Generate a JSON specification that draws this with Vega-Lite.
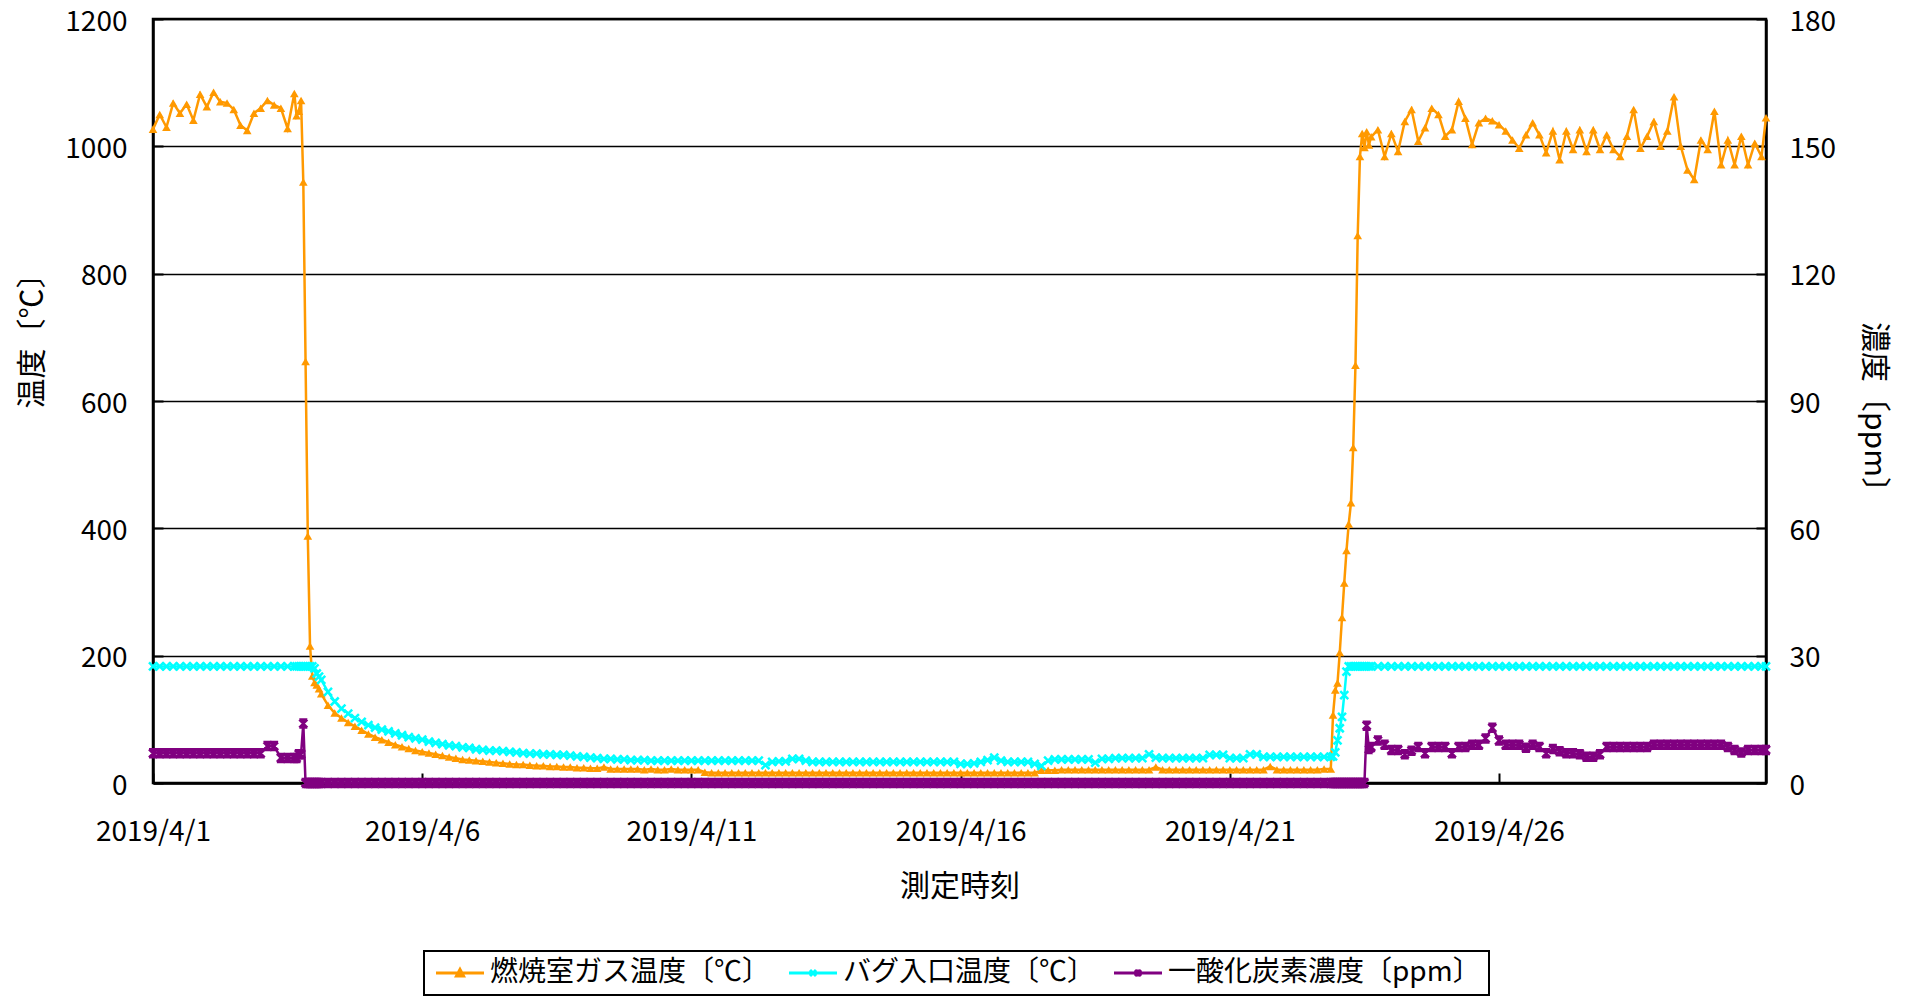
{
"$schema": "https://vega.github.io/schema/vega-lite/v6.json",
"width": 1613, "height": 764,
"autosize": "none",
"padding": {"left": 153, "top": 19, "right": 146, "bottom": 215},
"background": "white",
"data": {"values": [
{"t":"2019-04-01T00:00","gas":1027,"bag":183,"co":7},
{"t":"2019-04-01T03:00","gas":1050,"bag":183,"co":7},
{"t":"2019-04-01T06:00","gas":1030,"bag":183,"co":7},
{"t":"2019-04-01T09:00","gas":1068,"bag":183,"co":7},
{"t":"2019-04-01T12:00","gas":1052,"bag":183,"co":7},
{"t":"2019-04-01T15:00","gas":1066,"bag":183,"co":7},
{"t":"2019-04-01T18:00","gas":1041,"bag":183,"co":7},
{"t":"2019-04-01T21:00","gas":1082,"bag":183,"co":7},
{"t":"2019-04-02T00:00","gas":1062,"bag":183,"co":7},
{"t":"2019-04-02T03:00","gas":1085,"bag":183,"co":7},
{"t":"2019-04-02T06:00","gas":1070,"bag":183,"co":7},
{"t":"2019-04-02T09:00","gas":1068,"bag":183,"co":7},
{"t":"2019-04-02T12:00","gas":1058,"bag":183,"co":7},
{"t":"2019-04-02T15:00","gas":1033,"bag":183,"co":7},
{"t":"2019-04-02T18:00","gas":1025,"bag":183,"co":7},
{"t":"2019-04-02T21:00","gas":1052,"bag":183,"co":7},
{"t":"2019-04-03T00:00","gas":1060,"bag":183,"co":7},
{"t":"2019-04-03T03:00","gas":1072,"bag":183,"co":8.7},
{"t":"2019-04-03T06:00","gas":1065,"bag":183,"co":8.7},
{"t":"2019-04-03T09:00","gas":1060,"bag":183,"co":5.9},
{"t":"2019-04-03T12:00","gas":1028,"bag":183,"co":5.9},
{"t":"2019-04-03T15:00","gas":1083,"bag":183,"co":5.9},
{"t":"2019-04-03T16:00","gas":1048,"bag":183,"co":5.9},
{"t":"2019-04-03T17:00","gas":1055,"bag":183,"co":6.8},
{"t":"2019-04-03T18:00","gas":1072,"bag":183,"co":6.8},
{"t":"2019-04-03T19:00","gas":944,"bag":183,"co":14},
{"t":"2019-04-03T20:00","gas":662,"bag":183,"co":0},
{"t":"2019-04-03T21:00","gas":388,"bag":183,"co":0},
{"t":"2019-04-03T22:00","gas":215,"bag":183,"co":0},
{"t":"2019-04-03T23:00","gas":168,"bag":183,"co":0},
{"t":"2019-04-04T00:00","gas":158,"bag":180,"co":0},
{"t":"2019-04-04T01:00","gas":154,"bag":172,"co":0},
{"t":"2019-04-04T02:00","gas":148,"bag":167,"co":0},
{"t":"2019-04-04T03:00","gas":140,"bag":162,"co":0},
{"t":"2019-04-04T06:00","gas":122,"bag":143,"co":0},
{"t":"2019-04-04T09:00","gas":110,"bag":128,"co":0},
{"t":"2019-04-04T12:00","gas":102,"bag":117,"co":0},
{"t":"2019-04-04T15:00","gas":95,"bag":109,"co":0},
{"t":"2019-04-04T18:00","gas":89,"bag":102,"co":0},
{"t":"2019-04-04T21:00","gas":83,"bag":96,"co":0},
{"t":"2019-04-05T00:00","gas":77,"bag":91,"co":0},
{"t":"2019-04-05T03:00","gas":72,"bag":87,"co":0},
{"t":"2019-04-05T06:00","gas":68,"bag":84,"co":0},
{"t":"2019-04-05T09:00","gas":64,"bag":81,"co":0},
{"t":"2019-04-05T12:00","gas":60,"bag":78,"co":0},
{"t":"2019-04-05T15:00","gas":57,"bag":75,"co":0},
{"t":"2019-04-05T18:00","gas":54,"bag":72,"co":0},
{"t":"2019-04-05T21:00","gas":51,"bag":70,"co":0},
{"t":"2019-04-06T00:00","gas":49,"bag":68,"co":0},
{"t":"2019-04-06T03:00","gas":47,"bag":65,"co":0},
{"t":"2019-04-06T06:00","gas":45,"bag":63,"co":0},
{"t":"2019-04-06T09:00","gas":43,"bag":61,"co":0},
{"t":"2019-04-06T12:00","gas":41,"bag":59,"co":0},
{"t":"2019-04-06T15:00","gas":39,"bag":58,"co":0},
{"t":"2019-04-06T18:00","gas":37,"bag":56,"co":0},
{"t":"2019-04-06T21:00","gas":36,"bag":55,"co":0},
{"t":"2019-04-07T00:00","gas":35,"bag":53,"co":0},
{"t":"2019-04-07T03:00","gas":34,"bag":52,"co":0},
{"t":"2019-04-07T06:00","gas":33,"bag":51,"co":0},
{"t":"2019-04-07T09:00","gas":32,"bag":51,"co":0},
{"t":"2019-04-07T12:00","gas":31,"bag":50,"co":0},
{"t":"2019-04-07T15:00","gas":30,"bag":49,"co":0},
{"t":"2019-04-07T18:00","gas":29,"bag":48,"co":0},
{"t":"2019-04-07T21:00","gas":29,"bag":47,"co":0},
{"t":"2019-04-08T00:00","gas":28,"bag":46,"co":0},
{"t":"2019-04-08T03:00","gas":27,"bag":46,"co":0},
{"t":"2019-04-08T06:00","gas":27,"bag":45,"co":0},
{"t":"2019-04-08T09:00","gas":26,"bag":45,"co":0},
{"t":"2019-04-08T12:00","gas":26,"bag":44,"co":0},
{"t":"2019-04-08T15:00","gas":25,"bag":44,"co":0},
{"t":"2019-04-08T18:00","gas":25,"bag":43,"co":0},
{"t":"2019-04-08T21:00","gas":24,"bag":42,"co":0},
{"t":"2019-04-09T00:00","gas":24,"bag":41,"co":0},
{"t":"2019-04-09T03:00","gas":23,"bag":40,"co":0},
{"t":"2019-04-09T06:00","gas":23,"bag":39,"co":0},
{"t":"2019-04-09T09:00","gas":25,"bag":38,"co":0},
{"t":"2019-04-09T12:00","gas":22,"bag":38,"co":0},
{"t":"2019-04-09T15:00","gas":22,"bag":37,"co":0},
{"t":"2019-04-09T18:00","gas":22,"bag":37,"co":0},
{"t":"2019-04-09T21:00","gas":22,"bag":36,"co":0},
{"t":"2019-04-10T00:00","gas":22,"bag":36,"co":0},
{"t":"2019-04-10T03:00","gas":21,"bag":36,"co":0},
{"t":"2019-04-10T06:00","gas":22,"bag":35,"co":0},
{"t":"2019-04-10T09:00","gas":21,"bag":35,"co":0},
{"t":"2019-04-10T12:00","gas":21,"bag":35,"co":0},
{"t":"2019-04-10T15:00","gas":22,"bag":35,"co":0},
{"t":"2019-04-10T18:00","gas":21,"bag":35,"co":0},
{"t":"2019-04-10T21:00","gas":21,"bag":35,"co":0},
{"t":"2019-04-11T00:00","gas":21,"bag":35,"co":0},
{"t":"2019-04-11T03:00","gas":21,"bag":35,"co":0},
{"t":"2019-04-11T06:00","gas":17,"bag":35,"co":0},
{"t":"2019-04-11T09:00","gas":16,"bag":35,"co":0},
{"t":"2019-04-11T12:00","gas":16,"bag":35,"co":0},
{"t":"2019-04-11T15:00","gas":16,"bag":35,"co":0},
{"t":"2019-04-11T18:00","gas":16,"bag":35,"co":0},
{"t":"2019-04-11T21:00","gas":16,"bag":35,"co":0},
{"t":"2019-04-12T00:00","gas":16,"bag":35,"co":0},
{"t":"2019-04-12T03:00","gas":16,"bag":35,"co":0},
{"t":"2019-04-12T06:00","gas":16,"bag":35,"co":0},
{"t":"2019-04-12T09:00","gas":16,"bag":28,"co":0},
{"t":"2019-04-12T12:00","gas":16,"bag":33,"co":0},
{"t":"2019-04-12T15:00","gas":16,"bag":34,"co":0},
{"t":"2019-04-12T18:00","gas":16,"bag":34,"co":0},
{"t":"2019-04-12T21:00","gas":16,"bag":38,"co":0},
{"t":"2019-04-13T00:00","gas":16,"bag":38,"co":0},
{"t":"2019-04-13T03:00","gas":16,"bag":35,"co":0},
{"t":"2019-04-13T06:00","gas":16,"bag":33,"co":0},
{"t":"2019-04-13T09:00","gas":16,"bag":33,"co":0},
{"t":"2019-04-13T12:00","gas":16,"bag":33,"co":0},
{"t":"2019-04-13T15:00","gas":16,"bag":33,"co":0},
{"t":"2019-04-13T18:00","gas":16,"bag":33,"co":0},
{"t":"2019-04-13T21:00","gas":16,"bag":33,"co":0},
{"t":"2019-04-14T00:00","gas":16,"bag":33,"co":0},
{"t":"2019-04-14T03:00","gas":16,"bag":33,"co":0},
{"t":"2019-04-14T06:00","gas":16,"bag":33,"co":0},
{"t":"2019-04-14T09:00","gas":16,"bag":33,"co":0},
{"t":"2019-04-14T12:00","gas":16,"bag":33,"co":0},
{"t":"2019-04-14T15:00","gas":16,"bag":33,"co":0},
{"t":"2019-04-14T18:00","gas":16,"bag":33,"co":0},
{"t":"2019-04-14T21:00","gas":16,"bag":33,"co":0},
{"t":"2019-04-15T00:00","gas":16,"bag":33,"co":0},
{"t":"2019-04-15T03:00","gas":16,"bag":33,"co":0},
{"t":"2019-04-15T06:00","gas":16,"bag":33,"co":0},
{"t":"2019-04-15T09:00","gas":16,"bag":33,"co":0},
{"t":"2019-04-15T12:00","gas":16,"bag":33,"co":0},
{"t":"2019-04-15T15:00","gas":16,"bag":33,"co":0},
{"t":"2019-04-15T18:00","gas":16,"bag":33,"co":0},
{"t":"2019-04-15T21:00","gas":16,"bag":33,"co":0},
{"t":"2019-04-16T00:00","gas":16,"bag":30,"co":0},
{"t":"2019-04-16T03:00","gas":16,"bag":30,"co":0},
{"t":"2019-04-16T06:00","gas":16,"bag":31,"co":0},
{"t":"2019-04-16T09:00","gas":16,"bag":33,"co":0},
{"t":"2019-04-16T12:00","gas":16,"bag":36,"co":0},
{"t":"2019-04-16T15:00","gas":16,"bag":40,"co":0},
{"t":"2019-04-16T18:00","gas":16,"bag":35,"co":0},
{"t":"2019-04-16T21:00","gas":16,"bag":33,"co":0},
{"t":"2019-04-17T00:00","gas":16,"bag":33,"co":0},
{"t":"2019-04-17T03:00","gas":16,"bag":33,"co":0},
{"t":"2019-04-17T06:00","gas":16,"bag":33,"co":0},
{"t":"2019-04-17T09:00","gas":16,"bag":30,"co":0},
{"t":"2019-04-17T12:00","gas":20,"bag":27,"co":0},
{"t":"2019-04-17T15:00","gas":20,"bag":35,"co":0},
{"t":"2019-04-17T18:00","gas":20,"bag":37,"co":0},
{"t":"2019-04-17T21:00","gas":21,"bag":37,"co":0},
{"t":"2019-04-18T00:00","gas":21,"bag":37,"co":0},
{"t":"2019-04-18T03:00","gas":21,"bag":37,"co":0},
{"t":"2019-04-18T06:00","gas":21,"bag":37,"co":0},
{"t":"2019-04-18T09:00","gas":21,"bag":37,"co":0},
{"t":"2019-04-18T12:00","gas":21,"bag":32,"co":0},
{"t":"2019-04-18T15:00","gas":21,"bag":38,"co":0},
{"t":"2019-04-18T18:00","gas":21,"bag":38,"co":0},
{"t":"2019-04-18T21:00","gas":21,"bag":39,"co":0},
{"t":"2019-04-19T00:00","gas":21,"bag":39,"co":0},
{"t":"2019-04-19T03:00","gas":21,"bag":39,"co":0},
{"t":"2019-04-19T06:00","gas":21,"bag":39,"co":0},
{"t":"2019-04-19T09:00","gas":21,"bag":39,"co":0},
{"t":"2019-04-19T12:00","gas":21,"bag":45,"co":0},
{"t":"2019-04-19T15:00","gas":25,"bag":40,"co":0},
{"t":"2019-04-19T18:00","gas":21,"bag":39,"co":0},
{"t":"2019-04-19T21:00","gas":21,"bag":39,"co":0},
{"t":"2019-04-20T00:00","gas":21,"bag":39,"co":0},
{"t":"2019-04-20T03:00","gas":21,"bag":39,"co":0},
{"t":"2019-04-20T06:00","gas":21,"bag":39,"co":0},
{"t":"2019-04-20T09:00","gas":21,"bag":39,"co":0},
{"t":"2019-04-20T12:00","gas":21,"bag":39,"co":0},
{"t":"2019-04-20T15:00","gas":21,"bag":44,"co":0},
{"t":"2019-04-20T18:00","gas":21,"bag":44,"co":0},
{"t":"2019-04-20T21:00","gas":21,"bag":44,"co":0},
{"t":"2019-04-21T00:00","gas":21,"bag":39,"co":0},
{"t":"2019-04-21T03:00","gas":21,"bag":39,"co":0},
{"t":"2019-04-21T06:00","gas":21,"bag":39,"co":0},
{"t":"2019-04-21T09:00","gas":21,"bag":45,"co":0},
{"t":"2019-04-21T12:00","gas":21,"bag":45,"co":0},
{"t":"2019-04-21T15:00","gas":21,"bag":41,"co":0},
{"t":"2019-04-21T18:00","gas":26,"bag":41,"co":0},
{"t":"2019-04-21T21:00","gas":21,"bag":41,"co":0},
{"t":"2019-04-22T00:00","gas":21,"bag":41,"co":0},
{"t":"2019-04-22T03:00","gas":21,"bag":41,"co":0},
{"t":"2019-04-22T06:00","gas":21,"bag":41,"co":0},
{"t":"2019-04-22T09:00","gas":21,"bag":41,"co":0},
{"t":"2019-04-22T12:00","gas":21,"bag":41,"co":0},
{"t":"2019-04-22T15:00","gas":21,"bag":41,"co":0},
{"t":"2019-04-22T18:00","gas":22,"bag":41,"co":0},
{"t":"2019-04-22T21:00","gas":22,"bag":41,"co":0},
{"t":"2019-04-22T22:00","gas":107,"bag":42,"co":0},
{"t":"2019-04-22T23:00","gas":146,"bag":48,"co":0},
{"t":"2019-04-23T00:00","gas":157,"bag":67,"co":0},
{"t":"2019-04-23T01:00","gas":205,"bag":86,"co":0},
{"t":"2019-04-23T02:00","gas":260,"bag":104,"co":0},
{"t":"2019-04-23T03:00","gas":314,"bag":138,"co":0},
{"t":"2019-04-23T04:00","gas":365,"bag":175,"co":0},
{"t":"2019-04-23T05:00","gas":407,"bag":183,"co":0},
{"t":"2019-04-23T06:00","gas":440,"bag":183,"co":0},
{"t":"2019-04-23T07:00","gas":527,"bag":183,"co":0},
{"t":"2019-04-23T08:00","gas":656,"bag":183,"co":0},
{"t":"2019-04-23T09:00","gas":860,"bag":183,"co":0},
{"t":"2019-04-23T10:00","gas":984,"bag":183,"co":0},
{"t":"2019-04-23T11:00","gas":1020,"bag":183,"co":0},
{"t":"2019-04-23T12:00","gas":998,"bag":183,"co":0},
{"t":"2019-04-23T13:00","gas":1023,"bag":183,"co":13.5},
{"t":"2019-04-23T14:00","gas":1002,"bag":183,"co":8},
{"t":"2019-04-23T15:00","gas":1015,"bag":183,"co":8.5},
{"t":"2019-04-23T18:00","gas":1026,"bag":183,"co":10},
{"t":"2019-04-23T21:00","gas":984,"bag":183,"co":9},
{"t":"2019-04-24T00:00","gas":1020,"bag":183,"co":7.8},
{"t":"2019-04-24T03:00","gas":992,"bag":183,"co":7.8},
{"t":"2019-04-24T06:00","gas":1039,"bag":183,"co":6.8},
{"t":"2019-04-24T09:00","gas":1058,"bag":183,"co":7.6},
{"t":"2019-04-24T12:00","gas":1008,"bag":183,"co":8.5},
{"t":"2019-04-24T15:00","gas":1029,"bag":183,"co":7},
{"t":"2019-04-24T18:00","gas":1060,"bag":183,"co":8.5},
{"t":"2019-04-24T21:00","gas":1050,"bag":183,"co":8.5},
{"t":"2019-04-25T00:00","gas":1016,"bag":183,"co":8.5},
{"t":"2019-04-25T03:00","gas":1026,"bag":183,"co":7},
{"t":"2019-04-25T06:00","gas":1071,"bag":183,"co":8.5},
{"t":"2019-04-25T09:00","gas":1044,"bag":183,"co":8.5},
{"t":"2019-04-25T12:00","gas":1003,"bag":183,"co":9},
{"t":"2019-04-25T15:00","gas":1037,"bag":183,"co":9},
{"t":"2019-04-25T18:00","gas":1044,"bag":183,"co":10.5},
{"t":"2019-04-25T21:00","gas":1040,"bag":183,"co":13},
{"t":"2019-04-26T00:00","gas":1034,"bag":183,"co":10},
{"t":"2019-04-26T03:00","gas":1024,"bag":183,"co":9},
{"t":"2019-04-26T06:00","gas":1010,"bag":183,"co":9},
{"t":"2019-04-26T09:00","gas":997,"bag":183,"co":9},
{"t":"2019-04-26T12:00","gas":1018,"bag":183,"co":8.3},
{"t":"2019-04-26T15:00","gas":1037,"bag":183,"co":9},
{"t":"2019-04-26T18:00","gas":1018,"bag":183,"co":8.5},
{"t":"2019-04-26T21:00","gas":990,"bag":183,"co":7},
{"t":"2019-04-27T00:00","gas":1024,"bag":183,"co":8},
{"t":"2019-04-27T03:00","gas":979,"bag":183,"co":7.5},
{"t":"2019-04-27T06:00","gas":1024,"bag":183,"co":7},
{"t":"2019-04-27T09:00","gas":995,"bag":183,"co":7},
{"t":"2019-04-27T12:00","gas":1026,"bag":183,"co":6.8},
{"t":"2019-04-27T15:00","gas":992,"bag":183,"co":6.2},
{"t":"2019-04-27T18:00","gas":1026,"bag":183,"co":6.2},
{"t":"2019-04-27T21:00","gas":995,"bag":183,"co":6.8},
{"t":"2019-04-28T00:00","gas":1018,"bag":183,"co":8.5},
{"t":"2019-04-28T03:00","gas":995,"bag":183,"co":8.5},
{"t":"2019-04-28T06:00","gas":984,"bag":183,"co":8.5},
{"t":"2019-04-28T09:00","gas":1016,"bag":183,"co":8.5},
{"t":"2019-04-28T12:00","gas":1058,"bag":183,"co":8.5},
{"t":"2019-04-28T15:00","gas":997,"bag":183,"co":8.5},
{"t":"2019-04-28T18:00","gas":1016,"bag":183,"co":8.5},
{"t":"2019-04-28T21:00","gas":1039,"bag":183,"co":9},
{"t":"2019-04-29T00:00","gas":1000,"bag":183,"co":9},
{"t":"2019-04-29T03:00","gas":1024,"bag":183,"co":9},
{"t":"2019-04-29T06:00","gas":1078,"bag":183,"co":9},
{"t":"2019-04-29T09:00","gas":1000,"bag":183,"co":9},
{"t":"2019-04-29T12:00","gas":963,"bag":183,"co":9},
{"t":"2019-04-29T15:00","gas":948,"bag":183,"co":9},
{"t":"2019-04-29T18:00","gas":1010,"bag":183,"co":9},
{"t":"2019-04-29T21:00","gas":995,"bag":183,"co":9},
{"t":"2019-04-30T00:00","gas":1055,"bag":183,"co":9},
{"t":"2019-04-30T03:00","gas":971,"bag":183,"co":9},
{"t":"2019-04-30T06:00","gas":1010,"bag":183,"co":8.5},
{"t":"2019-04-30T09:00","gas":971,"bag":183,"co":7.8},
{"t":"2019-04-30T12:00","gas":1016,"bag":183,"co":7.2},
{"t":"2019-04-30T15:00","gas":971,"bag":183,"co":7.8},
{"t":"2019-04-30T18:00","gas":1005,"bag":183,"co":7.8},
{"t":"2019-04-30T21:00","gas":984,"bag":183,"co":7.8},
{"t":"2019-04-30T23:00","gas":1045,"bag":183,"co":7.8}
]},
"transform": [{"fold": ["gas", "bag", "co"], "as": ["series", "value"]}],
"encoding": {
  "x": {
    "field": "t", "type": "temporal",
    "scale": {"domain": [{"year": 2019, "month": 4, "date": 1}, {"year": 2019, "month": 4, "date": 30, "hours": 23}]},
    "axis": {
      "values": [{"year": 2019, "month": 4, "date": 1}, {"year": 2019, "month": 4, "date": 6}, {"year": 2019, "month": 4, "date": 11}, {"year": 2019, "month": 4, "date": 16}, {"year": 2019, "month": 4, "date": 21}, {"year": 2019, "month": 4, "date": 26}],
      "format": "%Y/%-m/%-d",
      "labelFlush": false, "labelOverlap": false,
      "tickSize": -10, "labelPadding": 45,
      "grid": false,
      "title": "測定時刻", "titleY": 103, "titleBaseline": "middle", "titleFontSize": 30
    }
  }
},
"layer": [
  {
    "transform": [{"filter": "datum.series != 'co'"}],
    "encoding": {
      "y": {"field": "value", "type": "quantitative",
        "scale": {"domain": [0, 1200]},
        "axis": {"orient": "left", "values": [0, 200, 400, 600, 800, 1000, 1200], "format": "d", "grid": true, "gridColor": "black", "gridWidth": 1.5, "gridOpacity": 1,
          "tickSize": -10, "labelPadding": 36, "labelOffset": 3,
          "title": "温度〔℃〕", "titleX": -121, "titleY": 314, "titleBaseline": "middle", "titleAlign": "center", "titleFontSize": 30}
      },
      "color": {"field": "series", "type": "nominal",
        "scale": {"domain": ["gas", "bag", "co"], "range": ["#FF9900", "#00FFFF", "#800080"]},
        "legend": {
          "orient": "none", "legendX": 271, "legendY": 932, "direction": "horizontal", "title": null,
          "strokeColor": "black", "padding": 8,
          "labelFontSize": 28, "labelColor": "black", "labelLimit": 0,
          "symbolSize": 400, "symbolStrokeWidth": 3, "symbolOffset": 14, "columnPadding": 12, "labelOffset": 16,
          "labelExpr": "datum.value == 'gas' ? '燃焼室ガス温度〔℃〕' : datum.value == 'bag' ? 'バグ入口温度〔℃〕' : '一酸化炭素濃度〔ppm〕'",
          "encode": {"symbols": {"update": {
            "shape": {"signal": "datum.value == 'gas' ? 'M-2.4,0H2.4M-0.35,0.3L0,-0.35L0.35,0.3Z' : datum.value == 'bag' ? 'M-2.4,0H2.4M-0.3,-0.3L0.3,0.3M-0.3,0.3L0.3,-0.3' : 'M-2.4,0H2.4M-0.3,-0.3L0.3,0.3M-0.3,0.3L0.3,-0.3M0,-0.35V0.35'"},
            "fill": {"scale": "color", "field": "value"},
            "stroke": {"scale": "color", "field": "value"},
            "strokeWidth": {"value": 3},
            "opacity": {"value": 1}
          }}}
        }
      }
    },
    "layer": [
      {"mark": {"type": "line", "strokeWidth": 2.5}},
      {"transform": [{"filter": "datum.series == 'gas'"}],
       "mark": {"type": "point", "shape": "triangle-up", "filled": true, "size": 75, "opacity": 1}},
      {"transform": [{"filter": "datum.series == 'bag'"}],
       "mark": {"type": "point", "shape": "M-1,-1L1,1M-1,1L1,-1", "filled": false, "size": 64, "strokeWidth": 2.5, "opacity": 1}}
    ]
  },
  {
    "transform": [{"filter": "datum.series == 'co'"}],
    "encoding": {
      "y": {"field": "value", "type": "quantitative",
        "scale": {"domain": [0, 180]},
        "axis": {"orient": "right", "values": [0, 30, 60, 90, 120, 150, 180], "grid": false,
          "tickSize": -10, "labelPadding": 33, "labelOffset": 3,
          "title": "濃度〔ppm〕", "titleAngle": 90, "titleX": 107, "titleY": 395, "titleBaseline": "middle", "titleAlign": "center", "titleFontSize": 30}
      },
      "color": {"field": "series", "type": "nominal",
        "scale": {"domain": ["gas", "bag", "co"], "range": ["#FF9900", "#00FFFF", "#800080"]}}
    },
    "layer": [
      {"mark": {"type": "line", "strokeWidth": 2.5}},
      {"mark": {"type": "point", "shape": "M-1,-1L1,1M-1,1L1,-1M0,-1V1M-1,-1H1M-1,1H1", "filled": false, "size": 64, "strokeWidth": 2.5, "opacity": 1}}
    ]
  }
],
"resolve": {"scale": {"y": "independent"}},
"config": {
  "font": "Noto Sans CJK JP",
  "view": {"stroke": "black", "strokeWidth": 2.5},
  "axis": {
    "labelFont": "Noto Sans CJK JP", "titleFont": "Noto Sans CJK JP",
    "labelFontSize": 28, "titleFontWeight": "normal",
    "labelColor": "black", "titleColor": "black",
    "domainColor": "black", "domainWidth": 2.5,
    "tickColor": "black", "tickWidth": 2
  },
  "legend": {"labelFont": "Noto Sans CJK JP", "strokeWidth": 2}
}
}
